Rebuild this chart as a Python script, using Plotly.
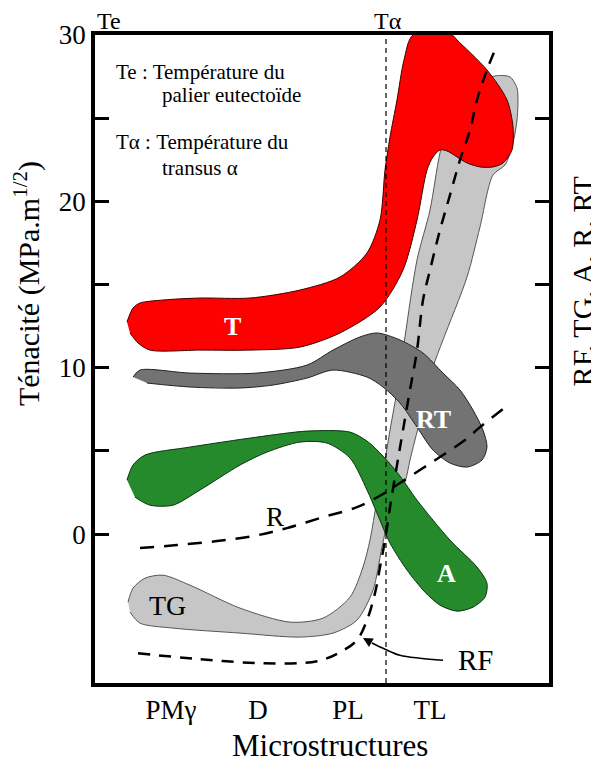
import plotly.graph_objects as go

# ---- data (x: position along the microstructure axis, y: toughness MPa.m^1/2) ----
categories = ["PMγ", "D", "PL", "TL"]
category_pos = [1.674, 3.590, 5.573, 7.379]
y_tickvals = [0, 5, 10, 15, 20, 25, 30]
y_ticktext = ["0", "", "10", "", "20", "", "30"]
T_alpha_x = 6.41

T_x = [0.705, 0.837, 0.991, 1.498, 2.313, 3.414, 4.515, 5.396, 5.991, 6.278, 6.388, 6.498, 6.652, 6.806,
       7.004, 7.863, 7.974, 8.634, 9.075, 9.207, 9.185, 8.987, 8.767, 8.480, 8.194, 7.974, 7.753, 7.599,
       7.445, 7.313, 7.093, 6.784, 6.278, 5.396, 4.515, 3.414, 2.313, 1.211, 0.947, 0.771]
T_y = [12.75, 13.59, 13.89, 14.07, 14.19, 14.19, 14.67, 15.45, 16.90, 18.88, 21.89, 23.87, 26.10, 28.50,
       30.0, 30.0, 29.70, 27.90, 26.10, 24.47, 23.09, 22.31, 22.07, 22.07, 22.31, 22.67, 23.03, 23.09,
       22.67, 21.89, 18.88, 15.87, 13.65, 12.09, 11.24, 11.06, 11.06, 11.06, 11.49, 12.09]

TG_x = [0.727, 0.837, 1.101, 1.498, 2.093, 3.194, 4.295, 5.022, 5.617, 5.903, 6.057, 6.211, 6.388, 6.498,
        6.674, 6.828, 7.093, 7.379, 7.599, 7.819, 8.150, 8.480, 8.811, 9.141, 9.295, 9.317, 9.295, 9.207,
        9.031, 8.767, 8.480, 8.194, 7.665, 7.445, 7.159, 6.938, 6.828, 6.498, 6.322, 6.123, 5.771, 5.242,
        4.515, 3.194, 1.718, 0.991, 0.771]
TG_y = [-4.09, -3.25, -2.65, -2.47, -3.07, -4.45, -5.29, -5.05, -3.79, -1.98, -0.36, 2.04, 4.45, 6.25,
        8.96, 11.85, 16.48, 19.48, 22.91, 24.89, 26.40, 27.18, 27.54, 27.48, 26.82, 26.10, 24.89, 23.51,
        22.19, 21.59, 18.46, 15.45, 11.67, 10.04, 6.86, 4.45, 3.13, 1.26, -0.78, -3.37, -5.17, -5.95,
        -6.19, -5.95, -5.65, -5.35, -4.69]

A_x = [0.705, 0.837, 1.101, 2.093, 3.568, 4.670, 5.617, 5.991, 6.344, 6.718, 7.093, 7.819, 8.414, 8.634,
       8.590, 8.326, 7.974, 7.599, 7.269, 6.872, 6.498, 6.211, 5.991, 5.617, 5.110, 4.515, 3.789, 3.194,
       2.313, 1.718, 1.211, 0.881]
A_y = [3.25, 4.15, 4.75, 5.23, 5.83, 6.19, 6.13, 5.59, 4.69, 3.49, 2.04, -0.36, -1.98, -2.95,
       -3.79, -4.39, -4.63, -4.27, -3.49, -2.16, -0.54, 1.26, 2.65, 4.57, 5.47, 5.53, 4.93, 4.15,
       2.65, 1.74, 1.74, 2.22]

RT_x = [0.837, 0.991, 2.093, 3.568, 4.670, 5.242, 5.837, 6.211, 6.718, 7.225, 7.665, 8.040, 8.326, 8.546,
        8.634, 8.524, 8.194, 7.819, 7.445, 7.093, 6.718, 6.344, 5.991, 5.242, 4.670, 3.921, 3.194, 2.093,
        1.145]
RT_y = [9.44, 9.86, 9.68, 9.68, 10.16, 11.06, 11.85, 12.09, 11.67, 10.88, 9.68, 8.66, 7.46, 6.25,
        5.23, 4.45, 4.03, 4.27, 5.05, 6.43, 7.88, 8.84, 9.44, 9.86, 9.38, 8.96, 8.78, 8.84,
        9.08]

RF_x = [0.947, 2.313, 3.700, 4.890, 5.396, 5.771, 5.991, 6.167, 6.278, 6.388, 6.498, 6.652, 6.784, 6.938,
        7.093, 7.225, 7.379, 7.599, 7.819, 8.040, 8.260, 8.414, 8.634, 8.855]
RF_y = [-7.16, -7.52, -7.76, -7.64, -7.10, -6.37, -5.17, -3.55, -1.98, -0.36, 1.62, 4.15, 6.25, 8.66,
        11.06, 14.07, 15.87, 18.28, 20.38, 22.49, 24.29, 26.10, 27.90, 29.40]

R_x = [0.991, 1.806, 2.687, 3.480, 4.229, 5.022, 5.771, 6.344, 6.718, 7.225, 7.665, 8.150, 8.480, 9.097]
R_y = [-0.84, -0.66, -0.42, -0.12, 0.36, 1.02, 1.62, 2.41, 3.07, 3.97, 4.75, 5.65, 6.43, 7.76]

arrow_x = [7.665, 7.159, 6.718, 6.388, 6.10]
arrow_y = [-7.58, -7.46, -7.28, -6.92, -6.55]
arrow_head = (5.903, -6.25)

Y_MIN, Y_MAX = -8.95, 30.0
X_MIN, X_MAX = 0.0, 10.0

FONT = "Liberation Serif"

fig = go.Figure()


def band(x, y, fill, edge):
    fig.add_trace(go.Scatter(
        x=x, y=y, mode="lines", fill="toself", fillcolor=fill,
        line=dict(color=edge, width=1, shape="spline", smoothing=0.8),
        hoverinfo="skip"))


band(TG_x, TG_y, "#c6c6c6", "#555555")
band(A_x, A_y, "#248a2c", "#0d3310")
band(RT_x, RT_y, "#737373", "#222222")
band(T_x, T_y, "#fd0000", "#400000")

# dashed curves
fig.add_trace(go.Scatter(x=RF_x, y=RF_y, mode="lines",
                         line=dict(color="black", width=2.5, dash="12px,9px", shape="spline"),
                         hoverinfo="skip"))
fig.add_trace(go.Scatter(x=R_x, y=R_y, mode="lines",
                         line=dict(color="black", width=2.5, dash="14px,10px", shape="spline"),
                         hoverinfo="skip"))
fig.add_trace(go.Scatter(x=[T_alpha_x, T_alpha_x], y=[Y_MIN, Y_MAX], mode="lines",
                         line=dict(color="black", width=1.2, dash="5px,4px"),
                         hoverinfo="skip"))
fig.add_trace(go.Scatter(x=arrow_x, y=arrow_y, mode="lines",
                         line=dict(color="black", width=1.6, shape="spline"),
                         hoverinfo="skip"))

ann = []


def txt(text, x, y, size, color="black", bold=False, xref="x", yref="y", xanchor="center",
        angle=0, yanchor="middle"):
    if bold:
        text = "<b>" + text + "</b>"
    ann.append(dict(text=text, x=x, y=y, xref=xref, yref=yref, showarrow=False,
                    xanchor=xanchor, yanchor=yanchor, textangle=angle, borderpad=0,
                    font=dict(family=FONT, size=size, color=color)))


# band labels
txt("T", 3.018, 12.45, 26, "white", True)
txt("RT", 7.445, 6.86, 26, "white", True)
txt("A", 7.753, -2.35, 26, "white", True)
txt("TG", 1.586, -4.27, 28)
txt("R", 3.965, 1.02, 27)
txt("RF", 8.37, -7.58, 29)

# legend text
txt("Te : Température du", 0.045, 0.943, 21, xref="paper", yref="paper", xanchor="left")
txt("palier eutectoïde", 0.145, 0.907, 21, xref="paper", yref="paper", xanchor="left")
txt("Tα : Température du", 0.045, 0.835, 21, xref="paper", yref="paper", xanchor="left")
txt("transus α", 0.145, 0.795, 21, xref="paper", yref="paper", xanchor="left")

# top labels
txt("Te", 0.031, 1.0, 24, xref="paper", yref="paper", yanchor="bottom")
txt("Tα", 0.645, 1.0, 24, xref="paper", yref="paper", yanchor="bottom")

# axis titles
txt("Ténacité (MPa.m<sup>1/2</sup>)", -0.150, 0.617, 30, xref="paper", yref="paper", angle=-90)
txt("RF, TG, A, R, RT", 1.073, 0.620, 30, xref="paper", yref="paper", angle=-90)
txt("Microstructures", 0.518, -0.0957, 31, xref="paper", yref="paper")

# arrow head
ann.append(dict(x=arrow_head[0], y=arrow_head[1], ax=arrow_x[-1], ay=arrow_y[-1],
                xref="x", yref="y", axref="x", ayref="y", text="", showarrow=True,
                arrowhead=2, arrowsize=1.2, arrowwidth=1.6, arrowcolor="black"))

# the page body has an 8px default margin, so the figure is sized to fit the window
fig.update_layout(
    width=591, height=754,
    margin=dict(l=87, r=50, t=27, b=79),
    paper_bgcolor="white", plot_bgcolor="white",
    showlegend=False,
    annotations=ann,
    xaxis=dict(range=[X_MIN, X_MAX], showgrid=False, zeroline=False, automargin=False,
               showline=True, linewidth=4, linecolor="black", mirror=True,
               tickvals=category_pos, ticktext=categories, ticks="",
               tickfont=dict(family=FONT, size=27, color="black")),
    yaxis=dict(range=[Y_MIN, Y_MAX], showgrid=False, zeroline=False, automargin=False,
               showline=True, linewidth=3.5, linecolor="black", mirror="ticks",
               tickvals=y_tickvals, ticktext=y_ticktext, ticks="inside",
               ticklen=14, tickwidth=3, tickcolor="black",
               tickfont=dict(family=FONT, size=27, color="black")),
)

fig.write_html("out.html")
